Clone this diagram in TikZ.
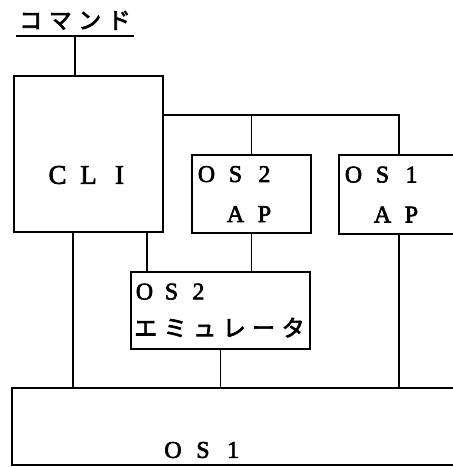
\documentclass[tikz,border=0pt]{standalone}
\usepackage{fontspec}
\setmainfont{Liberation Serif}[FakeBold=2.5]
\newfontfamily\jfont{Noto Sans CJK JP}[FakeBold=3]
\usepackage{tikz}
\newcommand{\zeichen}[2]{\foreach \z in {#2}{\makebox[#1]{\z}}}

\begin{document}
\begin{tikzpicture}[x=1pt, y=-1pt,
			kasten/.style={draw, rectangle, line width=2.2pt, inner sep=0pt, outer sep=0pt},   %Kästen
			linie/.style={line width=1.8pt},   %Verbindungen
			font=\fontsize{24}{28}\selectfont]
			%Bildbereich
			\useasboundingbox (0,0) rectangle (453,467);
			\clip (0,0) rectangle (453,467);
			% Kommando
			\node[inner xsep=0pt, inner ysep=6pt, anchor=south, font=\fontsize{23}{28}\selectfont] (cmd) at (75,36) {\jfont\zeichen{29.5pt}{コ,マ,ン,ド}};
			\draw[linie] (cmd.south west) -- (cmd.south east);
			% Kästen zeichnen
			\node[kasten, minimum width=149pt, minimum height=156pt, label={[yshift=-21pt, font=\fontsize{27}{30}\selectfont]center:\zeichen{31pt}{C,L,I}}] (cli) at (88.5,154) {};
			\node[kasten, minimum width=119pt, minimum height=78pt, text width=119pt, align=left, font=\fontsize{24}{40}\selectfont] (os2ap) at (251.5,194) {\zeichen{29pt}{O,S,2}\\\zeichen{29pt}{{},A,P}};
			\node[kasten, minimum width=140pt, minimum height=79pt, text width=140pt, align=left, font=\fontsize{24}{40}\selectfont] (os1ap) at (409,194.5) {\zeichen{29pt}{O,S,1}\\\zeichen{29pt}{{},A,P}};
			\node[kasten, minimum width=179pt, minimum height=77pt, text width=179pt, align=left, font=\fontsize{24}{37}\selectfont] (emu) at (220.5,310.5) {\zeichen{27pt}{O,S,2}\\{\fontsize{23}{37}\selectfont\jfont\zeichen{29.5pt}{エ,ミ,ュ,レ,ー,タ}}};
			\node[kasten, minimum width=480pt, minimum height=77pt, label={[xshift=-49pt, yshift=-23.5pt]center:\zeichen{30pt}{O,S,1}}] (os1) at (252,426.5) {};
			% Anschlusspunkte
			\coordinate (bus) at ([yshift=-39pt]cli.north east);
			\coordinate (os1apN) at ([xshift=60pt]os1ap.north west);
			\coordinate (os1apS) at ([xshift=60pt]os1ap.south west);
			\coordinate (cliA) at ([xshift=-15.5pt]cli.south);
			\coordinate (cliB) at ([xshift=-16pt]cli.south east);
			% Verbindungen zeichnen
			\draw[linie] (cmd.south) -- (cmd.south |- cli.north);
			\draw[linie] (bus) -| (os1apN);
			\draw[linie] (os2ap.north) -- (os2ap.north |- bus);
			\draw[linie] (os2ap.south) -- (os2ap.south |- emu.north);
			\draw[linie] (cliB) -- (cliB |- emu.north);
			\draw[linie] (cliA) -- (cliA |- os1.north);
			\draw[linie] (emu.south) -- (emu.south |- os1.north);
			\draw[linie] (os1apS) -- (os1apS |- os1.north);
		\end{tikzpicture}
\end{document}
